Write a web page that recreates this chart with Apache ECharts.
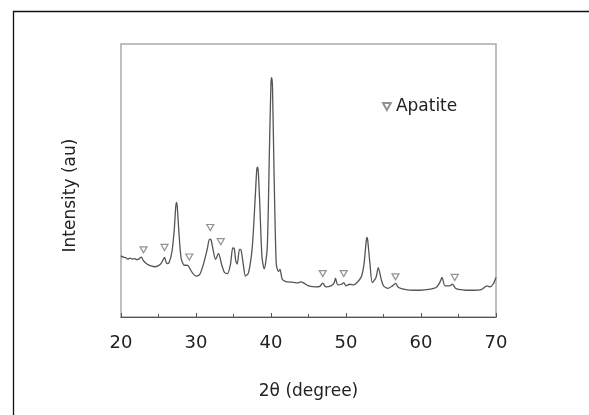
<!DOCTYPE html>
<html lang="en">
<head>
    <meta charset="UTF-8">
    <title>XRD pattern</title>
    <script src="https://cdn.jsdelivr.net/npm/echarts@6.0.0/dist/echarts.min.js"></script>
    <style>
        html, body { margin: 0; padding: 0; background: #fff; }
        #chart { width: 589px; height: 415px; }
    </style>
</head>
<body>
    <div id="chart"></div>
    <script>
        // 2theta (degree) and intensity
        var twoTheta = [20.0, 20.3, 20.6, 20.9, 21.2, 21.5, 21.8, 22.1, 22.4, 22.7, 23.0, 23.3, 23.6, 24.0, 24.5, 25.0, 25.4, 25.8, 26.1, 26.4,
            26.8, 27.1, 27.3, 27.4, 27.5, 27.7, 28.0, 28.4, 28.9, 29.2, 29.6, 30.0, 30.5, 31.0, 31.5, 31.8, 32.0, 32.3, 32.6, 33.0,
            33.4, 33.8, 34.2, 34.6, 34.9, 35.1, 35.3, 35.5, 35.8, 36.0, 36.3, 36.6, 37.0, 37.5, 37.9, 38.1, 38.2, 38.3, 38.5, 38.8,
            39.1, 39.5, 39.8, 40.0, 40.1, 40.2, 40.4, 40.7, 41.0, 41.2, 41.5, 42.0, 43.0, 43.5, 44.0, 44.5, 45.0, 46.0, 46.5, 46.9,
            47.3, 48.0, 48.4, 48.6, 48.9, 49.4, 49.7, 50.0, 50.5, 51.0, 52.0, 52.4, 52.7, 52.8, 52.9, 53.2, 53.5, 54.0, 54.3, 54.7,
            55.0, 55.6, 56.2, 56.6, 57.0, 58.0, 59.0, 60.0, 61.0, 62.0, 62.5, 62.8, 63.2, 63.8, 64.2, 64.6, 65.0, 66.0, 67.0, 68.0,
            68.8, 69.2, 69.6, 70.0];
        var intensity = [22.4, 21.9, 21.8, 21.2, 21.6, 21.2, 21.4, 21.0, 21.3, 21.9, 20.6, 19.8, 19.2, 18.7, 18.4, 18.8, 19.8, 21.8, 19.6, 19.9,
            24.0, 32.0, 40.5, 42.0, 40.5, 32.0, 21.8, 19.0, 18.9, 17.6, 15.9, 15.0, 15.6, 19.4, 24.9, 28.5, 28.3, 24.3, 21.1, 23.3,
            19.4, 16.3, 15.9, 19.4, 25.3, 25.0, 20.6, 19.4, 24.8, 24.6, 19.4, 15.0, 16.2, 25.5, 44.0, 54.0, 54.9, 53.5, 41.7, 21.8,
            17.6, 25.5, 62.5, 86.0, 87.7, 84.0, 53.9, 19.4, 16.6, 17.4, 13.8, 13.0, 12.7, 12.5, 12.9, 12.2, 11.4, 11.0, 11.2, 12.4,
            11.0, 11.4, 12.4, 14.2, 11.8, 12.0, 12.6, 11.4, 12.0, 11.8, 14.5, 19.4, 28.0, 29.2, 28.0, 19.4, 12.6, 14.5, 18.1, 13.8,
            11.4, 10.5, 11.4, 12.3, 10.8, 10.0, 9.8, 9.8, 10.1, 10.8, 12.6, 14.5, 11.4, 11.4, 12.0, 10.5, 10.1, 9.8, 9.8, 10.0,
            11.4, 11.0, 12.0, 14.5];

        // apatite reflections marked with open triangles
        var apatiteX = [23.0, 25.8, 29.1, 31.9, 33.3, 46.9, 49.7, 56.6, 64.5];
        var apatiteY = [24.6, 25.5, 22.0, 32.8, 27.6, 15.9, 15.9, 14.7, 14.5];

        var xTicks = [20, 30, 40, 50, 60, 70];

        var pattern = twoTheta.map(function (t, i) { return [t, intensity[i]]; });
        var marks = apatiteX.map(function (t, i) { return [t, apatiteY[i]]; });

        var txt = '#222';
        var fontFamily = '"DejaVu Sans", sans-serif';
        var downTri = 'path://M0,0 L10,0 L5,9 Z';

        var myChart = echarts.init(document.getElementById('chart'));
        var option = {
            animation: false,
            backgroundColor: '#fff',
            textStyle: { fontFamily: fontFamily },
            graphic: [{
                type: 'rect',
                left: 11, top: 9,
                shape: { width: 700, height: 600 },
                style: { fill: 'none', stroke: '#111', lineWidth: 1.3 },
                silent: true
            }],
            grid: {
                left: 121, right: 93, top: 44, bottom: 98,
                show: true, borderColor: '#aaa', borderWidth: 1.5
            },
            legend: {
                data: ['Apatite'],
                left: 377, top: 93,
                itemWidth: 8, itemHeight: 7, itemGap: 6,
                textStyle: { fontSize: 17, color: txt, fontFamily: fontFamily }
            },
            xAxis: {
                type: 'value',
                min: xTicks[0], max: xTicks[xTicks.length - 1], interval: 10,
                name: '2θ (degree)',
                nameLocation: 'middle', nameGap: 66,
                nameTextStyle: { fontSize: 17, color: txt },
                axisLine: { lineStyle: { color: '#555', width: 1.2 } },
                axisTick: { inside: true, length: 4, lineStyle: { color: '#555' } },
                minorTick: { show: true, splitNumber: 2, length: 3, lineStyle: { color: '#555' } },
                axisLabel: { fontSize: 18, color: txt, margin: 17 },
                splitLine: { show: false }
            },
            yAxis: {
                type: 'value',
                min: 0, max: 100,
                name: 'Intensity (au)',
                nameLocation: 'middle', nameGap: 42,
                nameTextStyle: { fontSize: 17, color: txt, padding: [0, 30, 0, 0] },
                axisLine: { show: false },
                axisTick: { show: false },
                axisLabel: { show: false },
                splitLine: { show: false }
            },
            series: [{
                name: 'XRD',
                type: 'line',
                data: pattern,
                symbol: 'none',
                smooth: 0.25,
                lineStyle: { color: '#555', width: 1.3 },
                z: 2
            }, {
                name: 'Apatite',
                type: 'scatter',
                data: marks,
                symbol: downTri,
                symbolSize: [7, 6],
                itemStyle: { color: '#fff', borderColor: '#777', borderWidth: 1.2 },
                z: 3
            }]
        };
        myChart.setOption(option);
    </script>
</body>
</html>
